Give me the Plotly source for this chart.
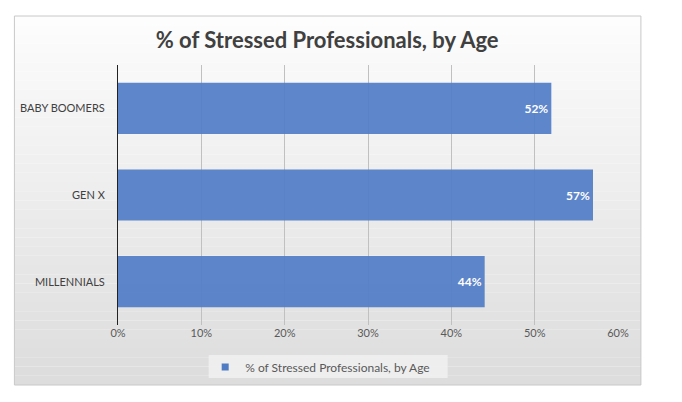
import plotly.graph_objs as go

categories = ["MILLENNIALS", "GEN X", "BABY BOOMERS"]
values = [0.44, 0.57, 0.52]
tick_vals = [0, 0.1, 0.2, 0.3, 0.4, 0.5, 0.6]
tick_text = ["0%", "10%", "20%", "30%", "40%", "50%", "60%"]
series_name = "% of Stressed Professionals, by Age"

# page has an 8px body margin, so the figure is laid out 8px smaller/shifted
OFF = 8
W, H = 682 - OFF, 402 - OFF
L, R, T, B = 116 - OFF, 618 - OFF, 65 - OFF, 325 - OFF


def px_x(p):
    return (p - OFF - L) / (R - L)


def px_y(p):
    return (B - (p - OFF)) / (B - T)


# chart frame with a soft top-to-bottom gradient
shapes = []
n = 40
top, bottom = 16, 385
for i in range(n):
    y0 = top + (bottom - top) * i / n
    y1 = top + (bottom - top) * (i + 1) / n
    c = int(253 - 32 * (i / (n - 1)))
    shapes.append(dict(type="rect", xref="paper", yref="paper", layer="below",
                       x0=px_x(12), x1=px_x(641), y0=px_y(y1), y1=px_y(y0),
                       line=dict(width=0), fillcolor=f"rgb({c},{c},{c})"))
shapes.append(dict(type="rect", xref="paper", yref="paper", layer="below",
                   x0=px_x(12), x1=px_x(641), y0=px_y(385), y1=px_y(16),
                   line=dict(color="#c8c8c8", width=1), fillcolor="rgba(0,0,0,0)"))
# legend box
shapes.append(dict(type="rect", xref="paper", yref="paper", layer="below",
                   x0=px_x(207), x1=px_x(447), y0=px_y(378), y1=px_y(355),
                   line=dict(width=0), fillcolor="rgba(240,240,240,0.9)"))

fig = go.Figure(data=[
    go.Bar(y=categories, x=values, orientation="h", name=series_name,
           marker=dict(color="rgba(82,125,198,0.93)", line=dict(width=0)),
           text=[f"{v:.0%}" for v in values], textposition="inside",
           insidetextanchor="end",
           textfont=dict(family="Lato", size=12, color="white", weight="bold"),
           showlegend=False),
    # small square legend key, like the original
    go.Scatter(x=[None], y=[None], mode="markers", name=series_name,
               marker=dict(symbol="square", size=7, color="#4f7bc4"),
               showlegend=True),
])

fig.update_layout(
    width=W, height=H,
    margin=dict(l=L, r=W - R, t=T, b=H - B),
    paper_bgcolor="white",
    plot_bgcolor="rgba(0,0,0,0)",
    title=dict(text="<b>% of Stressed Professionals, by Age</b>",
               x=px_x(326), xref="paper", xanchor="center",
               y=1 - (40 - OFF) / H, yanchor="middle",
               font=dict(family="Lato", size=22, color="#404040")),
    bargap=0.41,
    shapes=shapes,
    showlegend=True,
    legend=dict(orientation="h", x=px_x(319), xanchor="center",
                y=px_y(367), yanchor="middle",
                bgcolor="rgba(0,0,0,0)",
                font=dict(family="Lato", size=12, color="#595959"),
                itemwidth=30),
    font=dict(family="Lato", size=11, color="#595959"),
)

fig.update_xaxes(range=[0, 0.6], tickvals=tick_vals, ticktext=tick_text,
                 showgrid=True, gridcolor="#c0c0c0", gridwidth=1,
                 zeroline=False, showline=False, ticks="",
                 tickfont=dict(family="Lato", size=11, color="#595959"),
                 fixedrange=True)
fig.update_yaxes(showline=True, linecolor="#222222", linewidth=1,
                 showgrid=False, ticks="", ticklabelstandoff=10,
                 tickfont=dict(family="Lato", size=11, color="#404040"),
                 fixedrange=True)

fig.write_html("out.html")
